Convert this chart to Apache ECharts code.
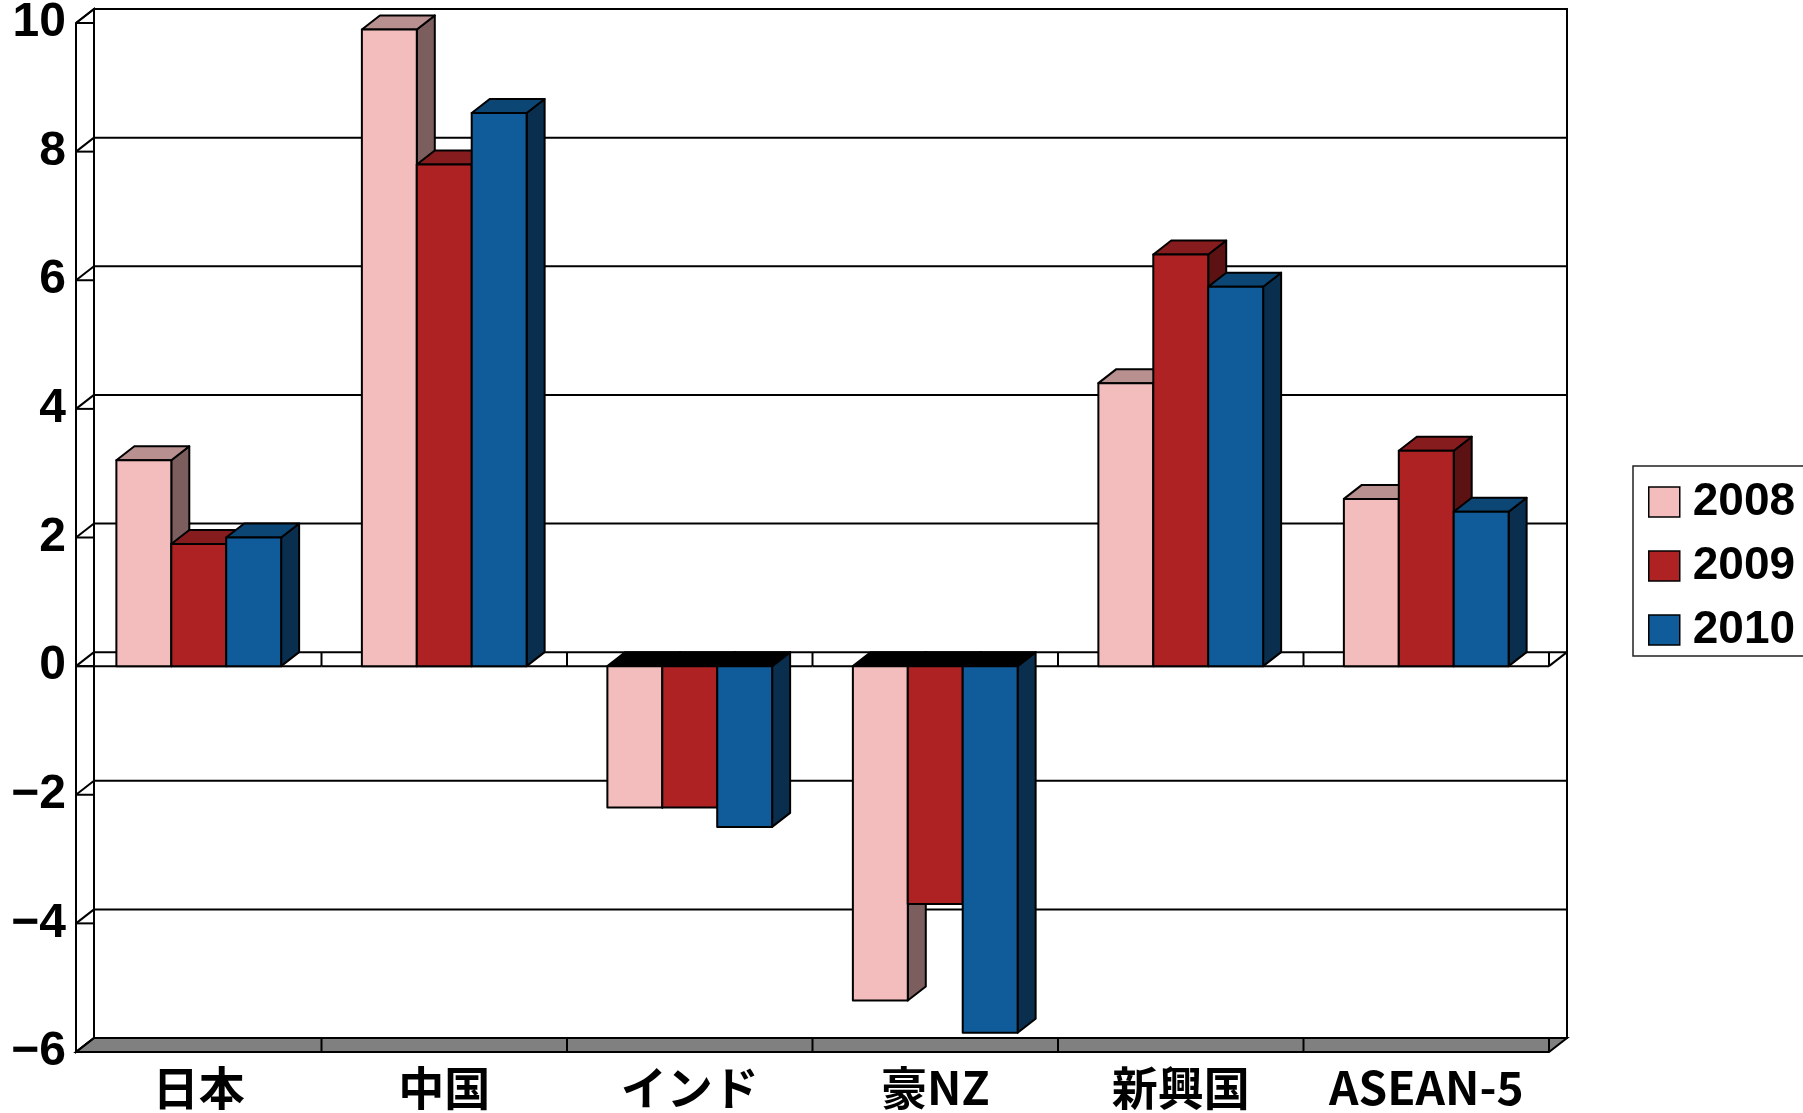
<!DOCTYPE html>
<html>
<head>
<meta charset="utf-8">
<script src="https://cdn.jsdelivr.net/npm/echarts@6/dist/echarts.min.js"></script>
<style>
  html, body { margin: 0; padding: 0; background: #fff; }
  #chart { width: 1803px; height: 1113px; }
</style>
</head>
<body>
<div id="chart"></div>
<script>
// Regions and yearly values
const categories = ['日本', '中国', 'インド', '豪NZ', '新興国', 'ASEAN-5'];
const years = ['2008', '2009', '2010'];
const values2008 = [3.2, 9.9, -2.2, -5.2, 4.4, 2.6];
const values2009 = [1.9, 7.8, -2.2, -3.7, 6.4, 3.35];
const values2010 = [2.0, 8.6, -2.5, -5.7, 5.9, 2.4];
const yTicks = [-6, -4, -2, 0, 2, 4, 6, 8, 10];

// Pseudo-3D depth offset (pixels) and bar width as a share of a category band
const DX = 18, DY = -14;
const BAR_FRACTION = 0.2237;
const faceColors = [
  { front: '#F3BCBD', top: '#B89090', side: '#7C5E5E' },
  { front: '#AE2224', top: '#861C1D', side: '#5C1212' },
  { front: '#105C9A', top: '#0C4675', side: '#0A2E4E' }
];

function seg(x1, y1, x2, y2) {
  return { type: 'line', shape: { x1, y1, x2, y2 }, style: { stroke: '#000', lineWidth: 2 } };
}

// Back wall, left wall and floor
function renderWalls(params) {
  const cs = params.coordSys;
  const L = cs.x, R = cs.x + cs.width, T = cs.y, B = cs.y + cs.height;
  return {
    type: 'group',
    children: [
      { type: 'polygon', shape: { points: [[L + DX, T + DY], [R + DX, T + DY], [R + DX, B + DY], [L + DX, B + DY]] },
        style: { fill: '#fff', stroke: '#000', lineWidth: 2 } },
      { type: 'polygon', shape: { points: [[L, T], [L + DX, T + DY], [L + DX, B + DY], [L, B]] },
        style: { fill: '#fff', stroke: '#000', lineWidth: 2 } },
      { type: 'polygon', shape: { points: [[L, B], [L + DX, B + DY], [R + DX, B + DY], [R, B]] },
        style: { fill: '#808080', stroke: '#000', lineWidth: 2 } }
    ]
  };
}

// One gridline per value tick: on the back wall plus its trace on the side wall
function renderGridLine(params, api) {
  const cs = params.coordSys;
  const L = cs.x, R = cs.x + cs.width;
  const y = api.coord([0, api.value(1)])[1];
  return {
    type: 'group',
    children: [
      seg(L + DX, y + DY, R + DX, y + DY),
      seg(L, y, L + DX, y + DY),
      seg(L, y, L + DX, y)
    ]
  };
}

// Category separators on the zero plane and on the floor
function renderCategoryTicks(params, api) {
  const cs = params.coordSys;
  const B = cs.y + cs.height, R = cs.x + cs.width;
  const c = api.coord([api.value(0), 0]);
  const band = api.size([1, 0])[0];
  const xl = c[0] - band / 2, xr = c[0] + band / 2, y0 = c[1];
  const children = [
    seg(xl, y0, xr, y0),
    seg(xr, y0 + DY, xr, y0),
    seg(xr, B + DY, xr, B)
  ];
  if (params.dataIndex === categories.length - 1) {
    children.push(seg(R, y0, R + DX, y0 + DY));
  }
  return { type: 'group', children };
}

function makeBarRenderer(k) {
  const col = faceColors[k];
  return function (params, api) {
    const ci = api.value(0), v = api.value(1);
    const band = api.size([1, 0])[0];
    const bw = band * BAR_FRACTION;
    const base = api.coord([ci, 0]);
    const end = api.coord([ci, v]);
    const x0 = base[0] + (k - 1.5) * bw, x1 = x0 + bw;
    const yHi = Math.min(base[1], end[1]), yLo = Math.max(base[1], end[1]);
    const edge = { stroke: '#000', lineWidth: 2, lineJoin: 'round' };
    return {
      type: 'group',
      children: [
        { type: 'polygon', shape: { points: [[x1, yHi], [x1 + DX, yHi + DY], [x1 + DX, yLo + DY], [x1, yLo]] },
          style: Object.assign({ fill: col.side }, edge) },
        { type: 'polygon', shape: { points: [[x0, yHi], [x0 + DX, yHi + DY], [x1 + DX, yHi + DY], [x1, yHi]] },
          style: Object.assign({ fill: v >= 0 ? col.top : '#000' }, edge) },
        { type: 'rect', shape: { x: x0, y: yHi, width: bw, height: yLo - yHi },
          style: Object.assign({ fill: col.front }, edge) }
      ]
    };
  };
}

const seriesValues = [values2008, values2009, values2010];
const barSeries = years.map((name, k) => ({
  name,
  type: 'custom',
  z: 4,
  silent: true,
  itemStyle: { color: faceColors[k].front },
  renderItem: makeBarRenderer(k),
  encode: { x: 0, y: 1 },
  data: seriesValues[k].map((v, i) => [i, v])
}));

const chart = echarts.init(document.getElementById('chart'), null, { renderer: 'canvas' });
chart.setOption({
  animation: false,
  backgroundColor: '#fff',
  grid: { left: 76, right: 254, top: 23, bottom: 61, containLabel: false, outerBoundsMode: 'none' },
  xAxis: {
    type: 'category',
    data: categories,
    axisLine: { show: false },
    axisTick: { show: false },
    splitLine: { show: false },
    axisLabel: {
      interval: 0,
      hideOverlap: false,
      margin: 13,
      color: '#000',
      fontSize: 46,
      fontWeight: 'bold',
      fontFamily: 'Noto Sans CJK JP'
    }
  },
  yAxis: {
    type: 'value',
    min: -6,
    max: 10,
    interval: 2,
    axisLine: { show: false },
    axisTick: { show: false },
    splitLine: { show: false },
    axisLabel: {
      margin: 10,
      color: '#000',
      fontSize: 48,
      fontWeight: 'bold',
      fontFamily: 'Liberation Sans',
      padding: [6, 0, 0, 0],
      formatter: v => (v < 0 ? '\u2212' + Math.abs(v) : String(v))
    }
  },
  legend: {
    data: years,
    orient: 'vertical',
    left: 1633,
    top: 466,
    padding: [13, 40, 3, 15],
    itemWidth: 31,
    itemHeight: 30,
    itemGap: 18,
    icon: 'rect',
    selectedMode: false,
    itemStyle: { borderColor: '#000', borderWidth: 1.5 },
    backgroundColor: '#fff',
    borderColor: '#222',
    borderWidth: 1.5,
    textStyle: { fontFamily: 'Liberation Sans', fontWeight: 'bold', fontSize: 46, color: '#000', padding: [0, 0, 0, 8] }
  },
  series: [
    { type: 'custom', z: 1, silent: true, renderItem: renderWalls, data: [[0, yTicks[0]]] },
    { type: 'custom', z: 2, silent: true, renderItem: renderGridLine, data: yTicks.map(t => [0, t]) },
    { type: 'custom', z: 3, silent: true, renderItem: renderCategoryTicks, data: categories.map((c, i) => [i, 0]) }
  ].concat(barSeries)
});
</script>
</body>
</html>
